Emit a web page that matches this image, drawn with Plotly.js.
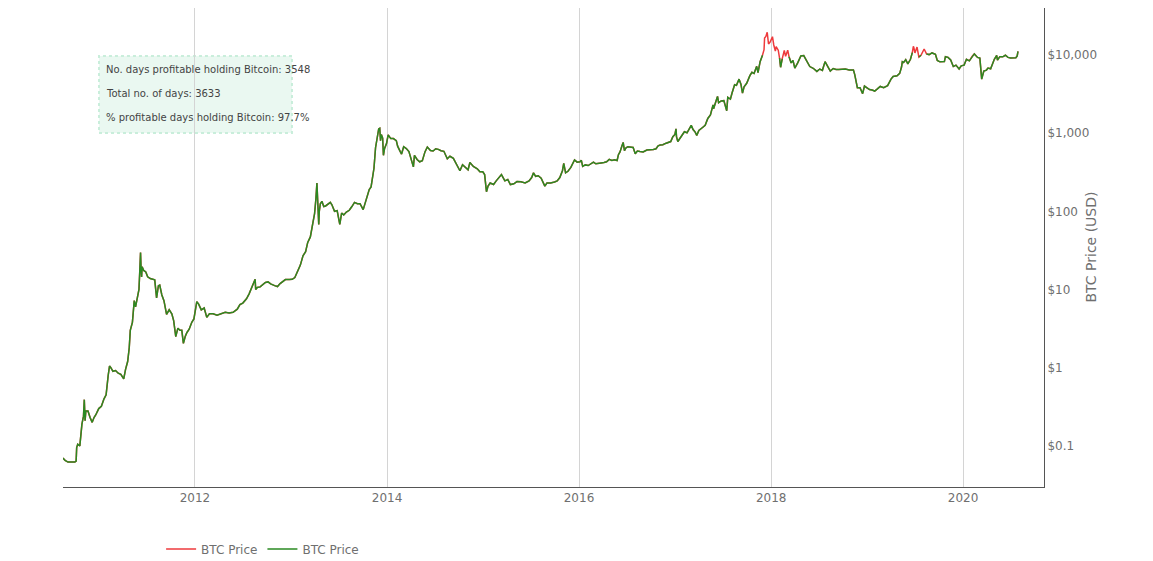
<!DOCTYPE html>
<html>
<head>
<meta charset="utf-8">
<script src="https://cdn.plot.ly/plotly-3.0.1.min.js"></script>
<style>html,body{margin:0;padding:0;background:#fff;}#chart{width:1153px;height:561px;}</style>
</head>
<body>
<div id="chart"></div>
<script>
// BTC daily price (USD)
const dates = [
'2010-08-17','2010-08-25','2010-09-05','2010-09-20','2010-10-01','2010-10-06','2010-10-08','2010-10-12','2010-10-20','2010-10-28',
'2010-11-03','2010-11-06','2010-11-09','2010-11-12','2010-11-20','2010-11-28','2010-12-06','2010-12-13','2010-12-20','2010-12-31',
'2011-01-10','2011-01-20','2011-01-28','2011-02-05','2011-02-10','2011-02-15','2011-02-23','2011-03-05','2011-03-15','2011-03-25',
'2011-04-05','2011-04-12','2011-04-20','2011-04-26','2011-04-30','2011-05-08','2011-05-15','2011-05-20','2011-05-28','2011-06-02',
'2011-06-05','2011-06-08','2011-06-10','2011-06-12','2011-06-14','2011-06-20','2011-06-28','2011-07-05','2011-07-15','2011-07-25',
'2011-08-01','2011-08-08','2011-08-15','2011-08-20','2011-08-28','2011-09-05','2011-09-12','2011-09-15','2011-09-25','2011-10-05',
'2011-10-12','2011-10-20','2011-10-28','2011-11-05','2011-11-12','2011-11-18','2011-11-25','2011-12-01','2011-12-10','2011-12-20',
'2011-12-28',
'2012-01-08','2012-01-15','2012-01-25','2012-02-05','2012-02-15','2012-02-25','2012-03-10','2012-03-25','2012-04-10','2012-04-25',
'2012-05-10','2012-05-25','2012-06-10','2012-06-20','2012-07-01','2012-07-15','2012-07-25','2012-08-05','2012-08-15','2012-08-17',
'2012-08-19','2012-08-25','2012-09-05','2012-09-15','2012-09-25','2012-10-05','2012-10-15','2012-10-30','2012-11-10','2012-11-20',
'2012-11-30','2012-12-10','2012-12-25',
'2013-01-05','2013-01-15','2013-01-25','2013-02-05','2013-02-15','2013-02-25','2013-03-05','2013-03-15','2013-03-25','2013-03-31',
'2013-04-05','2013-04-09','2013-04-11','2013-04-12','2013-04-16','2013-04-18','2013-04-22','2013-04-28','2013-05-05','2013-05-12',
'2013-05-20','2013-05-30','2013-06-05','2013-06-15','2013-06-25','2013-07-05','2013-07-12','2013-07-20','2013-07-30','2013-08-10',
'2013-08-20','2013-08-30','2013-09-10','2013-09-20','2013-10-02','2013-10-08','2013-10-18','2013-10-25','2013-11-01','2013-11-08',
'2013-11-12','2013-11-18','2013-11-22','2013-11-30','2013-12-04','2013-12-07','2013-12-10','2013-12-15','2013-12-18','2013-12-22',
'2013-12-30',
'2014-01-05','2014-01-15','2014-01-25','2014-02-05','2014-02-10','2014-02-20','2014-02-25','2014-03-05','2014-03-15','2014-03-25',
'2014-04-01','2014-04-11','2014-04-15','2014-04-25','2014-05-05','2014-05-15','2014-05-25','2014-06-03','2014-06-15','2014-06-25',
'2014-07-05','2014-07-15','2014-07-25','2014-08-05','2014-08-18','2014-08-28','2014-09-10','2014-09-22','2014-10-05','2014-10-15',
'2014-10-28','2014-11-05','2014-11-12','2014-11-25','2014-12-10','2014-12-20','2014-12-31',
'2015-01-07','2015-01-14','2015-01-20','2015-01-28','2015-02-10','2015-02-20','2015-03-05','2015-03-12','2015-03-25','2015-04-05',
'2015-04-15','2015-04-28','2015-05-10','2015-05-25','2015-06-10','2015-06-25','2015-07-05','2015-07-12','2015-07-20','2015-07-30',
'2015-08-10','2015-08-18','2015-08-24','2015-09-01','2015-09-15','2015-09-30','2015-10-10','2015-10-20','2015-10-30','2015-11-04',
'2015-11-11','2015-11-20','2015-12-01','2015-12-15','2015-12-25',
'2016-01-05','2016-01-10','2016-01-15','2016-01-25','2016-02-05','2016-02-15','2016-02-25','2016-03-05','2016-03-15','2016-03-25',
'2016-04-05','2016-04-15','2016-04-25','2016-05-05','2016-05-15','2016-05-25','2016-05-30','2016-06-05','2016-06-12','2016-06-17',
'2016-06-22','2016-06-28','2016-07-05','2016-07-15','2016-07-25','2016-08-02','2016-08-10','2016-08-20','2016-09-01','2016-09-15',
'2016-09-30','2016-10-10','2016-10-20','2016-10-28','2016-11-05','2016-11-15','2016-11-25','2016-12-05','2016-12-15','2016-12-23',
'2016-12-31',
'2017-01-04','2017-01-06','2017-01-11','2017-01-15','2017-01-25','2017-02-05','2017-02-15','2017-02-25','2017-03-03','2017-03-10',
'2017-03-18','2017-03-24','2017-04-01','2017-04-15','2017-04-25','2017-05-05','2017-05-15','2017-05-25','2017-05-27','2017-06-05',
'2017-06-11','2017-06-15','2017-06-25','2017-07-05','2017-07-16','2017-07-20','2017-07-30','2017-08-05','2017-08-15','2017-08-22',
'2017-09-01','2017-09-08','2017-09-14','2017-09-20','2017-09-30','2017-10-12','2017-10-20','2017-10-28','2017-11-07','2017-11-12',
'2017-11-20','2017-11-29','2017-12-05','2017-12-07','2017-12-12','2017-12-17','2017-12-22','2017-12-28',
'2018-01-06','2018-01-11','2018-01-17','2018-01-20','2018-01-28','2018-02-02','2018-02-06','2018-02-12','2018-02-20','2018-02-25',
'2018-03-05','2018-03-10','2018-03-18','2018-03-25','2018-04-01','2018-04-12','2018-04-24','2018-05-05','2018-05-15','2018-05-28',
'2018-06-10','2018-06-24','2018-07-05','2018-07-15','2018-07-25','2018-08-05','2018-08-14','2018-08-25','2018-09-05','2018-09-15',
'2018-09-30','2018-10-10','2018-10-25','2018-11-10','2018-11-15','2018-11-20','2018-11-25','2018-12-05','2018-12-15','2018-12-22',
'2018-12-30',
'2019-01-10','2019-01-20','2019-01-30','2019-02-08','2019-02-20','2019-03-05','2019-03-20','2019-04-02','2019-04-10','2019-04-25',
'2019-05-05','2019-05-12','2019-05-15','2019-05-20','2019-05-28','2019-06-05','2019-06-15','2019-06-22','2019-06-26','2019-06-28',
'2019-07-02','2019-07-10','2019-07-17','2019-07-25','2019-08-06','2019-08-15','2019-08-25','2019-09-05','2019-09-18','2019-09-25',
'2019-10-05','2019-10-22','2019-10-26','2019-11-05','2019-11-15','2019-11-25','2019-12-05','2019-12-17','2019-12-25',
'2020-01-05','2020-01-14','2020-01-25','2020-02-05','2020-02-13','2020-02-25','2020-03-05','2020-03-12','2020-03-20','2020-03-30',
'2020-04-05','2020-04-15','2020-04-29','2020-05-08','2020-05-11','2020-05-20','2020-05-31','2020-06-10','2020-06-20','2020-06-30',
'2020-07-10','2020-07-20','2020-07-25','2020-07-27','2020-07-28'
];
const prices = [
0.070,0.065,0.062,0.062,0.062,0.064,0.095,0.105,0.10,0.19,
0.24,0.39,0.21,0.28,0.28,0.23,0.20,0.23,0.25,0.30,
0.32,0.40,0.45,0.80,1.05,1.00,0.90,0.92,0.85,0.82,
0.72,0.95,1.20,1.80,3.0,3.8,7.2,6.0,8.5,10.0,
17.0,29.6,18.5,14.5,19.5,17.5,16.8,14.5,13.8,13.6,
13.3,7.8,11.2,11.4,8.5,7.2,5.5,4.8,5.5,4.9,
4.0,2.5,3.2,3.0,3.0,2.05,2.5,2.8,3.1,3.8,
4.2,
7.0,6.5,5.5,5.8,4.4,4.9,4.9,4.7,4.9,5.1,
5.0,5.1,5.6,6.4,6.7,7.6,8.8,10.9,13.2,13.5,
10.0,10.6,10.8,11.5,12.3,12.5,11.8,11.2,10.9,11.9,
12.6,13.4,13.4,
13.5,14.2,17.0,20.5,27.0,30.5,40.0,47.0,72.0,93,
142,230,160,117,68,100,125,134,115,117,
122,130,121,100,102,68,95,90,98,103,
115,130,125,125,105,125,160,190,205,300,
355,650,780,1130,1150,800,960,860,520,630,
740,
950,850,850,800,680,580,540,670,635,580,
470,370,520,460,430,445,575,665,600,590,
630,620,595,585,470,505,475,400,330,395,
355,340,420,375,350,320,320,
295,178,210,230,220,245,275,295,245,255,
220,225,240,238,230,245,270,310,280,285,
265,230,210,230,230,237,245,270,330,410,
311,325,365,455,425,
430,448,375,392,385,405,425,405,415,416,
422,430,462,446,457,447,530,575,680,760,
595,650,670,665,655,545,590,580,575,608,
608,617,630,688,703,710,738,755,780,900,
963,
1135,895,780,820,890,1040,1010,1180,1260,1110,
1030,935,1080,1180,1260,1540,1710,2300,2050,2550,
2950,2450,2580,2600,1930,2860,2720,3230,4160,4080,
4900,4230,3240,3900,4340,5440,5990,5780,7140,5950,
8200,9900,11700,16400,17200,19500,13800,14600,
17100,13400,11200,12800,11500,9100,6950,8900,11400,9600,
11500,9500,7900,8500,6800,7900,9700,9800,8500,7100,
6750,6150,6600,6350,8200,7000,6200,6700,6500,6500,
6600,6600,6400,6400,5600,4500,3800,3800,3200,4000,
3800,
3600,3550,3450,3650,3950,3800,4050,4900,5300,5400,
5800,7000,8200,8000,8700,7700,8800,10700,12900,12400,
10600,12600,9400,9900,11900,10300,10100,10600,10200,8500,
8150,8200,9500,9300,8600,7100,7400,6600,7250,
7400,8800,8400,9600,10300,9300,9100,4900,6200,6400,
6800,6650,8800,9900,8600,9500,9450,9900,9300,9150,
9250,9200,9700,11000,11100
];
const yTickVals = [0.1, 1, 10, 100, 1000, 10000];
const yTickText = ['$0.1', '$1', '$10', '$100', '$1,000', '$10,000'];
const statLines = [
  'No. days profitable holding Bitcoin: 3548',
  'Total no. of days: 3633',
  '% profitable days holding Bitcoin: 97.7%'
];

const current = prices[prices.length - 1];
const profitable = prices.map(p => (p <= current ? p : null));

const FONT = 'Verdana, "DejaVu Sans", sans-serif';
const GREY = '#6f6f6f';

const traces = [
  {x: dates, y: prices, type: 'scatter', mode: 'lines', name: 'BTC Price',
   line: {color: '#ee3a3c', width: 1.5}, hoverinfo: 'x+y'},
  {x: dates, y: profitable, type: 'scatter', mode: 'lines', name: 'BTC Price',
   line: {color: '#2a8a22', width: 1.5}, connectgaps: false, hoverinfo: 'x+y'}
];

const statY = [0.8706, 0.8225, 0.7724];
const annotations = statLines.map((t, i) => ({
  text: t, xref: 'paper', yref: 'paper', x: 0.0415, y: statY[i],
  xanchor: 'left', yanchor: 'middle', showarrow: false,
  font: {family: FONT, size: 10, color: '#444'}
}));
annotations.push({
  text: 'BTC Price (USD)', xref: 'paper', yref: 'paper', x: 1.0469, y: 0.5,
  xanchor: 'center', yanchor: 'middle', textangle: -90, showarrow: false,
  font: {family: FONT, size: 14, color: GREY}
});

const layout = {
  width: 1153, height: 561,
  margin: {l: 63, r: 109, t: 8, b: 74},
  paper_bgcolor: '#fff', plot_bgcolor: '#fff',
  font: {family: FONT, size: 12, color: GREY},
  showlegend: true,
  legend: {orientation: 'h', xref: 'paper', x: 0.1, xanchor: 'left',
           yref: 'container', y: 0.0214, yanchor: 'middle',
           font: {family: FONT, size: 12, color: GREY}},
  xaxis: {
    type: 'date', range: ['2010-08-17', '2020-11-04'],
    tick0: '2012-01-01', dtick: 'M24', tickformat: '%Y',
    showgrid: true, gridcolor: '#d4d4d4', gridwidth: 1,
    showline: true, linecolor: '#555', linewidth: 1,
    zeroline: false, ticks: '',
    tickfont: {family: FONT, size: 12, color: GREY}
  },
  yaxis: {
    type: 'log', side: 'right', range: [-1.526, 4.60],
    tickvals: yTickVals, ticktext: yTickText,
    showgrid: false, showline: true, linecolor: '#555', linewidth: 1,
    zeroline: false, ticks: '',
    tickfont: {family: FONT, size: 12, color: GREY}
  },
  shapes: [{
    type: 'rect', xref: 'paper', yref: 'paper',
    x0: 0.0367, x1: 0.2334, y0: 0.739, y1: 0.8998,
    fillcolor: '#eaf8f1', line: {color: '#c9eedb', width: 2, dash: 'dot'},
    layer: 'below'
  }],
  annotations: annotations
};

Plotly.newPlot('chart', traces, layout, {displayModeBar: false, staticPlot: true});
</script>
</body>
</html>
